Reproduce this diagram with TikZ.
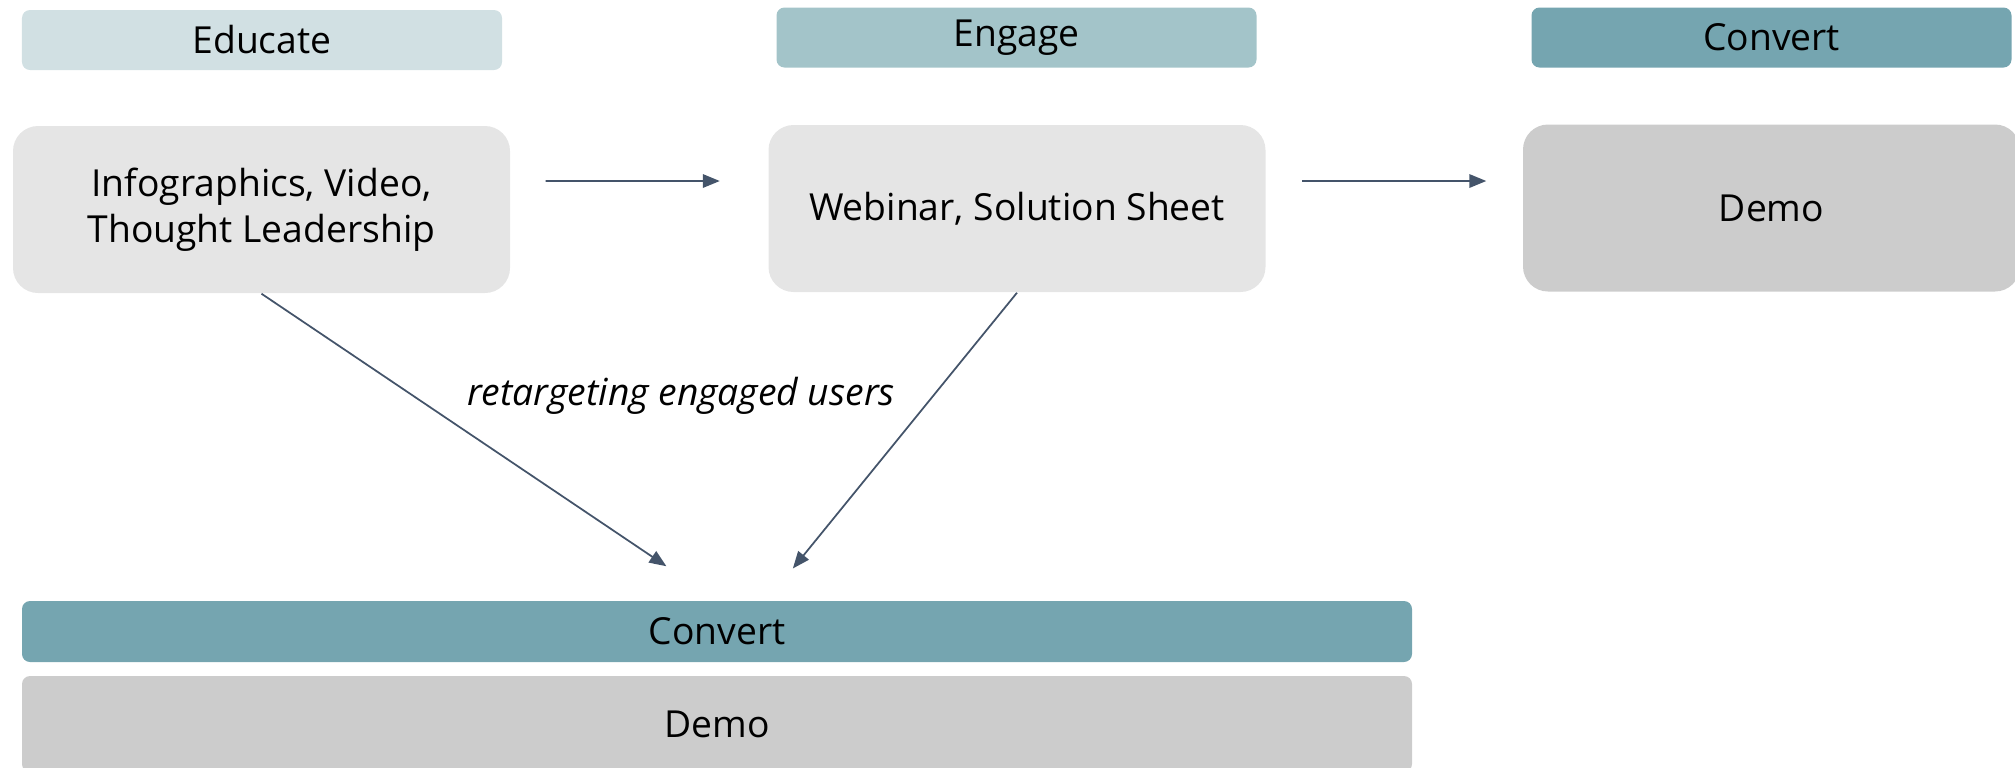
\documentclass[tikz,border=0pt]{standalone}
\usepackage{fontspec}
\setmainfont{Open Sans}
\usetikzlibrary{arrows.meta,calc,positioning}
\definecolor{pfeil}{RGB}{68,84,106}
\definecolor{educol}{RGB}{209,224,227}
\definecolor{engcol}{RGB}{163,196,201}
\definecolor{convcol}{RGB}{117,165,176}
\definecolor{boxgray}{RGB}{229,229,229}
\definecolor{demogray}{RGB}{204,204,204}

\begin{document}
\begin{tikzpicture}[
    font=\fontsize{10.6}{13.2}\selectfont,
    >={Triangle[length=1.7mm,width=1.35mm]},
    head/.style={rounded corners=0.8mm, minimum width=4.8cm, minimum height=0.6cm, inner sep=0pt},
    stage/.style={rounded corners=2.5mm, minimum width=4.97cm, minimum height=1.67cm, inner sep=0pt, align=center},
    flow/.style={->, pfeil, line width=0.5pt}
  ]
    \useasboundingbox (0,0) rectangle (20.15,-7.67);

    % headers
    \node[head, fill=educol] (eduhead) at (2.62,-0.4) {Educate};
    \node[head, fill=engcol] (enghead) at (10.165,-0.375) {Engage};
    \node[head, fill=convcol] (convhead) at (17.715,-0.375) {Convert};

    % content boxes
    \node[stage, fill=boxgray] (edu) at (2.615,-2.095) {Infographics, Video,\\Thought Leadership};
    \node[stage, fill=boxgray] (eng) at (10.17,-2.085) {Webinar, Solution Sheet};
    \node[stage, fill=demogray] (demo) at (17.715,-2.08) {Demo};

    % bottom row
    \node[head, fill=convcol, minimum width=13.9cm, minimum height=0.61cm] (conv) at (7.17,-6.315) {Convert};
    \node[head, fill=demogray, minimum width=13.9cm, minimum height=0.96cm] (demobar) at (7.17,-7.24) {Demo};

    \draw[flow, shorten <=3.5mm, shorten >=4.8mm] ([yshift=2.85mm]edu.east) -- ([yshift=2.75mm]eng.west);
    \draw[flow, shorten <=3.6mm, shorten >=3.6mm] ([yshift=2.75mm]eng.east) -- ([yshift=2.7mm]demo.west);

    \draw[flow, shorten >=6.1mm] (edu.south) -- (conv.north);
    \draw[flow, shorten >=4.1mm] (eng.south) -- ([xshift=5mm]conv.north);

    \node[font=\fontsize{10.6}{13.2}\selectfont\itshape] (retarget) at (6.81,-3.96) {retargeting engaged users};

\end{tikzpicture}
\end{document}
